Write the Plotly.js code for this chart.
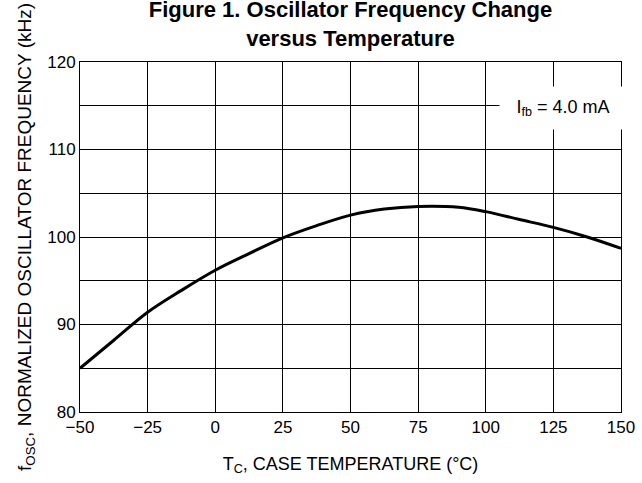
<!DOCTYPE html>
<html>
<head>
<meta charset="utf-8">
<script src="https://cdn.plot.ly/plotly-3.0.1.min.js"></script>
<style>html,body{margin:0;padding:0;background:#fff;}#chart{width:642px;height:483px;}</style>
</head>
<body>
<div id="chart"></div>
<script>
const temperature = [-50, -37.5, -25, -12.5, 0, 12.5, 25, 37.5, 50, 62.5, 75, 90, 100, 112.5, 125, 137.5, 150];
const frequency   = [85.0, 88.2, 91.4, 93.9, 96.2, 98.1, 99.9, 101.3, 102.5, 103.2, 103.5, 103.4, 102.9, 102.0, 101.1, 100.0, 98.7];
const xTicks = [-50, -25, 0, 25, 50, 75, 100, 125, 150];
const yTicks = [80, 90, 100, 110, 120];
const font = "'Liberation Sans', Arial, Helvetica, sans-serif";

const trace = {
  x: temperature, y: frequency, type: 'scatter', mode: 'lines',
  line: {color: '#000', width: 3, shape: 'spline', smoothing: 1},
  hoverinfo: 'skip'
};

const layout = {
  width: 642, height: 483,
  margin: {l: 80, r: 21, t: 62, b: 71},
  paper_bgcolor: '#fff', plot_bgcolor: '#fff',
  showlegend: false,
  font: {family: font, color: '#000', size: 17},
  title: {
    text: '<b>Figure 1. Oscillator Frequency Change<br>versus Temperature</b>',
    font: {family: font, size: 22, color: '#000'},
    x: 0.5, xref: 'paper', y: 0.965, yref: 'container', yanchor: 'middle', pad: {t: 0, b: 0}
  },
  xaxis: {
    range: [-50, 150], tickvals: xTicks, ticks: '', showgrid: true,
    gridcolor: '#000', gridwidth: 1, zeroline: false,
    showline: true, linecolor: '#000', linewidth: 1, mirror: true,
    tickfont: {size: 17}, fixedrange: true,
    title: {text: 'T<sub>C</sub>, CASE TEMPERATURE (°C)', font: {size: 18}, standoff: 20}
  },
  yaxis: {
    range: [80, 120], tickvals: yTicks, ticks: '', showgrid: true,
    gridcolor: '#000', gridwidth: 1, zeroline: false,
    minor: {dtick: 5, showgrid: true, gridcolor: '#000', gridwidth: 1, ticks: ''},
    showline: true, linecolor: '#000', linewidth: 1, mirror: true,
    tickfont: {size: 17}, fixedrange: true,
    title: {text: 'f<sub>OSC</sub>, NORMALIZED OSCILLATOR FREQUENCY (kHz)', font: {size: 19}, standoff: 10}
  },
  annotations: [{
    x: 128.5, y: 114.8, xref: 'x', yref: 'y',
    text: 'I<sub>fb</sub> = 4.0 mA', showarrow: false,
    font: {size: 18, color: '#000'}, bgcolor: '#fff',
    width: 110, height: 26, borderpad: 8
  }]
};

Plotly.newPlot('chart', [trace], layout, {staticPlot: true, displayModeBar: false});
</script>
</body>
</html>
